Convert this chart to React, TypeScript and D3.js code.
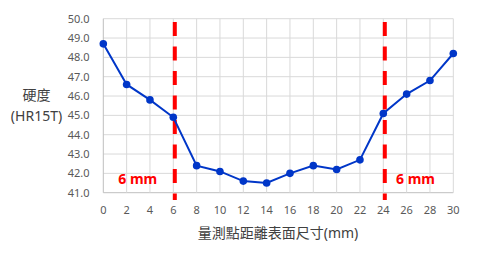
import React from "react";
import * as d3 from "d3";

const distances = [0, 2, 4, 6, 8, 10, 12, 14, 16, 18, 20, 22, 24, 26, 28, 30];
const hardness = [48.7, 46.6, 45.8, 44.9, 42.4, 42.1, 41.6, 41.5, 42.0, 42.4, 42.2, 42.7, 45.1, 46.1, 46.8, 48.2];
const yTicks = [41, 42, 43, 44, 45, 46, 47, 48, 49, 50];
const xTicks = [0, 2, 4, 6, 8, 10, 12, 14, 16, 18, 20, 22, 24, 26, 28, 30];
const markerLines = [6, 24];
const markerLabels = ["6 mm", "6 mm"];
const yTitle = ["硬度", "(HR15T)"];
const xTitle = "量測點距離表面尺寸(mm)";

const W = 482;
const H = 254;
const FONT = "'Noto Sans', 'Noto Sans CJK TC', sans-serif";

export default function App() {
  const x = d3.scaleLinear().domain([0, 30]).range([103.3, 453.3]);
  const y = d3.scaleLinear().domain([41, 50]).range([192.7, 18.7]);
  const pts = distances.map((d, i) => [x(d), y(hardness[i])] as [number, number]);
  const line = d3.line()(pts) || "";
  const labelDx = [118.3 - x(6), 396 - x(24)];

  return (
    <svg
      width={W}
      height={H}
      style={{ position: "absolute", left: 0, top: 0, background: "#fff" }}
    >
      {/* grid */}
      {yTicks.map((t) => (
        <line
          key={"gy" + t}
          x1={x(0)}
          x2={x(30)}
          y1={y(t)}
          y2={y(t)}
          stroke={t === 41 ? "#bfbfbf" : "#d9d9d9"}
          strokeWidth={1}
        />
      ))}
      {xTicks.map((t) => (
        <line
          key={"gx" + t}
          x1={x(t)}
          x2={x(t)}
          y1={y(50)}
          y2={y(41)}
          stroke={t === 0 ? "#bfbfbf" : "#d9d9d9"}
          strokeWidth={1}
        />
      ))}
      {/* y tick labels */}
      {yTicks.map((t) => (
        <text
          key={"ty" + t}
          x={89.5}
          y={y(t) + 4}
          textAnchor="end"
          fontFamily={FONT}
          fontSize={11}
          fill="#595959"
        >
          {t.toFixed(1)}
        </text>
      ))}
      {/* x tick labels */}
      {xTicks.map((t) => (
        <text
          key={"tx" + t}
          x={x(t)}
          y={213.5}
          textAnchor="middle"
          fontFamily={FONT}
          fontSize={11}
          fill="#595959"
        >
          {t}
        </text>
      ))}
      {/* dashed marker lines */}
      {markerLines.map((m, i) => (
        <g key={"m" + i}>
          <line
            x1={x(m) + 1.5}
            x2={x(m) + 1.5}
            y1={22}
            y2={200}
            stroke="#ff0000"
            strokeWidth={4}
            strokeDasharray="14 10.5"
          />
          <text
            x={x(m) + labelDx[i]}
            y={183.5}
            fontFamily={FONT}
            fontWeight="bold"
            fontSize={14}
            fill="#ff0000"
          >
            {markerLabels[i]}
          </text>
        </g>
      ))}
      {/* data line */}
      <path d={line} fill="none" stroke="#0036c8" strokeWidth={2} />
      {pts.map((p, i) => (
        <circle key={"c" + i} cx={p[0]} cy={p[1]} r={3.8} fill="#0036c8" />
      ))}
      {/* axis titles */}
      <text x={36.5} y={100} textAnchor="middle" fontFamily={FONT} fontSize={14} fill="#404040">
        {yTitle[0]}
      </text>
      <text x={36.5} y={121} textAnchor="middle" fontFamily={FONT} fontSize={14} fill="#404040">
        {yTitle[1]}
      </text>
      <text x={278} y={237.5} textAnchor="middle" fontFamily={FONT} fontSize={14} fill="#404040">
        {xTitle}
      </text>
    </svg>
  );
}
